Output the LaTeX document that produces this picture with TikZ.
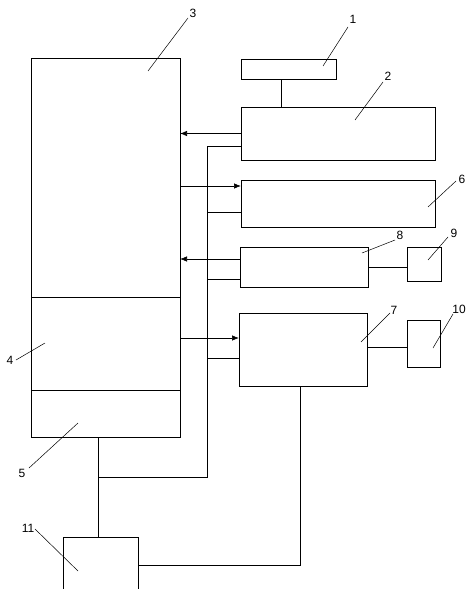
\documentclass[tikz,border=0pt]{standalone}
\usepackage{fontspec}
\setmainfont{Liberation Sans}
\usetikzlibrary{arrows.meta}
\begin{document}
\begin{tikzpicture}[x=1pt,y=-1pt,
  blk/.style={draw,line width=0.7pt,inner sep=0pt,outer sep=0pt,anchor=north west},
  ln/.style={line width=0.7pt},
  arr/.style={line width=0.7pt,-{Latex[length=7pt,width=5.5pt]}},
  lead/.style={line width=0.5pt},
  lbl/.style={inner sep=0pt,font=\fontsize{12}{12}\selectfont}]
\useasboundingbox (0,0) rectangle (468,589);
\clip (0,0) rectangle (468,589);
% blocks
\node[blk,minimum width=95pt,minimum height=20pt] (b1) at (241,59) {};
\node[blk,minimum width=194pt,minimum height=53pt] (b2) at (241,107) {};
\node[blk,minimum width=149pt,minimum height=239pt] (b3) at (31,58) {};
\node[blk,minimum width=149pt,minimum height=93pt] (b4) at (31,297) {};
\node[blk,minimum width=149pt,minimum height=47pt] (b5) at (31,390) {};
\node[blk,minimum width=194pt,minimum height=47pt] (b6) at (241,180) {};
\node[blk,minimum width=128pt,minimum height=40pt] (b8) at (240,247) {};
\node[blk,minimum width=34pt,minimum height=34pt] (b9) at (407,247) {};
\node[blk,minimum width=128pt,minimum height=73pt] (b7) at (239,313) {};
\node[blk,minimum width=33pt,minimum height=47pt] (b10) at (407,320) {};
\node[blk,minimum width=75pt,minimum height=56pt] (b11) at (63,537) {};
% helper coordinates
\coordinate (busB) at (207,477);
\coordinate (j) at (98,477);
\coordinate (s2) at ([yshift=-12.5pt]b2.west);
\coordinate (a6) at ([yshift=17.5pt]b6.west);
\coordinate (s6) at ([yshift=-8.5pt]b6.west);
\coordinate (a8) at ([yshift=8pt]b8.west);
\coordinate (s8) at ([yshift=-12pt]b8.west);
\coordinate (a7) at ([yshift=11.5pt]b7.west);
\coordinate (s7) at ([yshift=-8.5pt]b7.west);
\coordinate (e7) at ([yshift=2.5pt]b7.east);
% connectors
\draw[ln] ([xshift=40pt]b1.south west) -- ([xshift=40pt]b2.north west);
\draw[arr] (b2.west) -- (b2.west -| b3.east);
\draw[ln] (s2) -| (busB) -- (j);
\draw[ln] (b5.south -| j) -- (b11.north -| j);
\draw[arr] (a6 -| b3.east) -- (a6);
\draw[ln] (s6 -| busB) -- (s6);
\draw[arr] (a8) -- (a8 -| b3.east);
\draw[ln] (s8 -| busB) -- (s8);
\draw[ln] (b8.east) -- (b8.east -| b9.west);
\draw[arr] (a7 -| b4.east) -- (a7);
\draw[ln] (s7 -| busB) -- (s7);
\draw[ln] (e7) -- (e7 -| b10.west);
\draw[ln] ([xshift=61pt]b7.south west) |- (b11.east);
% labels
\node[lbl] (l1) at (353,19) {1};
\node[lbl] (l2) at (388,76) {2};
\node[lbl] (l3) at (193,13) {3};
\node[lbl] (l4) at (10,360) {4};
\node[lbl] (l5) at (22,473) {5};
\node[lbl] (l6) at (462,179) {6};
\node[lbl] (l7) at (394,310) {7};
\node[lbl] (l8) at (400,235) {8};
\node[lbl] (l9) at (454,233) {9};
\node[lbl] (l10) at (459,309) {10};
\node[lbl] (l11) at (28,528) {11};
% leaders
\draw[lead] (323,66) -- (348,27);
\draw[lead] (355,120) -- (383,82);
\draw[lead] (148,71) -- (188,18);
\draw[lead] (16,360) -- (45,343);
\draw[lead] (29,468) -- (78,423);
\draw[lead] (428,207) -- (456,181);
\draw[lead] (361,342) -- (390,313);
\draw[lead] (362,253) -- (395,240);
\draw[lead] (428,260) -- (448,237);
\draw[lead] (433,348) -- (453,314);
\draw[lead] (35,529) -- (78,571);
\end{tikzpicture}
\end{document}
